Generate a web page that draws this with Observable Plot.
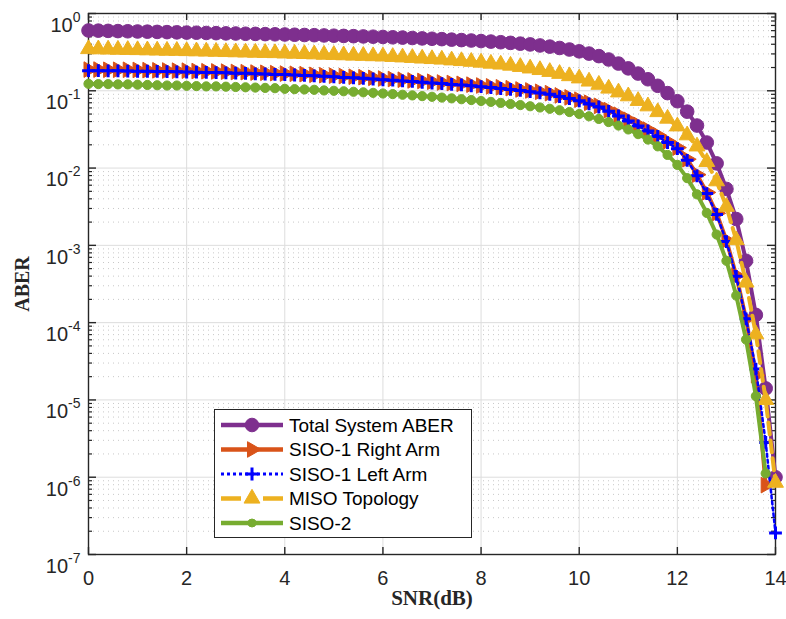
<!DOCTYPE html>
<html><head><meta charset="utf-8">
<script src="https://cdn.jsdelivr.net/npm/d3@7"></script>
<script src="https://cdn.jsdelivr.net/npm/@observablehq/plot@0.6"></script>
<style>
body{margin:0;background:#fff;}
#chart{width:786px;height:619px;}
</style></head><body><div id="chart"></div>
<script>
const snr = [0,0.2,0.4,0.6,0.8,1,1.2,1.4,1.6,1.8,2,2.2,2.4,2.6,2.8,3,3.2,3.4,3.6,3.8,4,4.2,4.4,4.6,4.8,5,5.2,5.4,5.6,5.8,6,6.2,6.4,6.6,6.8,7,7.2,7.4,7.6,7.8,8,8.2,8.4,8.6,8.8,9,9.2,9.4,9.6,9.8,10,10.2,10.4,10.6,10.8,11,11.2,11.4,11.6,11.8,12,12.2,12.4,12.6,12.8,13,13.2,13.4,13.6,13.8,14];

const totalABER = [0.603,0.600,0.596,0.592,0.589,0.585,0.582,0.578,0.574,0.570,0.566,0.564,0.560,0.557,0.553,0.551,0.547,0.545,0.541,0.538,0.535,0.531,0.527,0.524,0.520,0.516,0.513,0.509,0.505,0.501,0.497,0.492,0.488,0.482,0.476,0.471,0.466,0.459,0.453,0.447,0.440,0.433,0.425,0.417,0.407,0.398,0.386,0.373,0.358,0.342,0.324,0.303,0.281,0.254,0.225,0.195,0.167,0.141,0.116,0.0933,0.0733,0.0537,0.0355,0.0214,0.0115,0.00537,0.00219,6.31e-4,1.26e-4,1.41e-5,1.0e-6];

const siso1Right = [0.188,0.188,0.187,0.187,0.187,0.186,0.185,0.184,0.183,0.182,0.182,0.180,0.179,0.178,0.177,0.175,0.174,0.172,0.171,0.169,0.167,0.166,0.164,0.161,0.159,0.157,0.155,0.152,0.150,0.147,0.144,0.142,0.139,0.136,0.134,0.131,0.128,0.126,0.123,0.120,0.117,0.114,0.111,0.108,0.104,0.101,0.0971,0.0931,0.0871,0.0822,0.0767,0.0700,0.0638,0.0562,0.0490,0.0422,0.0363,0.0313,0.0266,0.0221,0.0184,0.0130,0.00822,0.00484,0.00260,0.00116,4.07e-4,1.12e-4,2.09e-5,7.9e-7];

const siso1Left = [0.182,0.182,0.181,0.181,0.180,0.179,0.179,0.178,0.177,0.176,0.175,0.174,0.173,0.172,0.171,0.169,0.168,0.166,0.165,0.163,0.162,0.160,0.158,0.156,0.154,0.152,0.149,0.147,0.145,0.142,0.139,0.137,0.134,0.132,0.129,0.126,0.124,0.121,0.119,0.116,0.113,0.110,0.107,0.104,0.101,0.0973,0.0938,0.0899,0.0841,0.0794,0.0741,0.0676,0.0617,0.0543,0.0473,0.0407,0.0351,0.0302,0.0257,0.0214,0.0178,0.0126,0.00794,0.00468,0.00251,0.00112,3.98e-4,1.12e-4,2.51e-5,2.82e-6,1.9e-7];

const misoTopology = [0.347,0.345,0.343,0.341,0.339,0.337,0.335,0.333,0.331,0.330,0.327,0.325,0.323,0.321,0.318,0.316,0.314,0.312,0.310,0.308,0.305,0.303,0.300,0.297,0.294,0.292,0.289,0.286,0.284,0.281,0.279,0.275,0.271,0.267,0.262,0.258,0.254,0.248,0.243,0.238,0.232,0.225,0.219,0.212,0.204,0.195,0.186,0.176,0.166,0.155,0.145,0.132,0.120,0.107,0.0955,0.0851,0.0741,0.0631,0.0531,0.0437,0.0347,0.0266,0.0191,0.0120,0.00676,0.00316,0.00117,3.31e-4,7.08e-5,1.0e-5,8.5e-7];

const siso2 = [0.123,0.122,0.122,0.121,0.121,0.120,0.119,0.118,0.117,0.117,0.116,0.115,0.114,0.114,0.113,0.112,0.111,0.110,0.109,0.108,0.106,0.105,0.104,0.103,0.101,0.100,0.0986,0.0971,0.0955,0.0940,0.0923,0.0906,0.0889,0.0871,0.0853,0.0836,0.0817,0.0798,0.0778,0.0759,0.0738,0.0718,0.0697,0.0675,0.0653,0.0631,0.0608,0.0585,0.0560,0.0531,0.0501,0.0468,0.0432,0.0394,0.0355,0.0316,0.0275,0.0234,0.0191,0.0148,0.0110,0.00741,0.00457,0.00263,0.00138,6.31e-4,2.24e-4,6.03e-5,1.12e-5,1.12e-6];

const seriesNames = ["Total System ABER","SISO-1 Right Arm","SISO-1 Left Arm","MISO Topology","SISO-2"];
const xTicks = [0,2,4,6,8,10,12,14];
const yTicks = [1e-7,1e-6,1e-5,1e-4,1e-3,1e-2,1e-1,1];
const yMinor = yTicks.slice(0,-1).flatMap(d => [2,3,4,5,6,7,8,9].map(m => m*d));

const styles = [
  {values: totalABER, color:"#7E2F8E", lw:4, dash:null, symbol:"circle", r:6.8, rotate:0, filled:true},
  {values: siso1Right, color:"#D95319", lw:4, dash:null, symbol:"triangle", r:5.8, rotate:90, filled:true},
  {values: siso1Left, color:"#0000FF", lw:2.5, dash:"3,3", symbol:"plus", r:4.2, rotate:0, filled:false},
  {values: misoTopology, color:"#EDB120", lw:4, dash:"12,6", symbol:"triangle", r:5.9, rotate:0, filled:true},
  {values: siso2, color:"#77AC30", lw:4, dash:null, symbol:"circle", r:4.6, rotate:0, filled:true}
];

const W = 786, H = 619, ML = 88, MR = 11, MT = 13, MB = 65;
const PW = W - ML - MR, PH = H - MT - MB;
const axisColor = "#262626";
const sans = "Liberation Sans, Arial, Helvetica, sans-serif";
const serif = "Liberation Serif, Times New Roman, serif";

const seriesMarks = styles.flatMap((s, k) => {
  const rows = s.values.map((v, i) => ({x: snr[i], y: v}));
  const lineOpts = {x: "x", y: "y", stroke: s.color, strokeWidth: s.lw};
  if (s.dash) lineOpts.strokeDasharray = s.dash;
  const dotOpts = {x: "x", y: "y", symbol: s.symbol, r: s.r, stroke: s.color};
  if (s.filled) { dotOpts.fill = s.color; dotOpts.strokeWidth = 1; }
  else { dotOpts.fill = "none"; dotOpts.strokeWidth = 3; }
  if (s.rotate) dotOpts.rotate = s.rotate;
  return [Plot.line(rows, lineOpts), Plot.dot(rows, dotOpts)];
});

const chart = Plot.plot({
  width: W, height: H,
  marginLeft: ML, marginRight: MR, marginTop: MT, marginBottom: MB,
  style: {background: "#fff", color: axisColor, fontFamily: sans},
  x: {domain: [0, 14]},
  y: {type: "log", domain: [1e-7, 1]},
  marks: [
    Plot.gridX(xTicks, {stroke: "#dddddd", strokeOpacity: 1, strokeWidth: 1}),
    Plot.gridY(yMinor, {stroke: "#c8c8c8", strokeOpacity: 1, strokeWidth: 1, strokeDasharray: "1,4"}),
    Plot.gridY(yTicks, {stroke: "#dddddd", strokeOpacity: 1, strokeWidth: 1}),
    Plot.frame({stroke: axisColor, strokeWidth: 1.4}),
    Plot.tickX(xTicks, {x: d => d, insetTop: PH - 7, stroke: axisColor, strokeWidth: 1.4}),
    Plot.tickX(xTicks, {x: d => d, insetBottom: PH - 7, stroke: axisColor, strokeWidth: 1.4}),
    Plot.tickY(yTicks, {y: d => d, insetRight: PW - 8, stroke: axisColor, strokeWidth: 1.4}),
    Plot.tickY(yTicks, {y: d => d, insetLeft: PW - 8, stroke: axisColor, strokeWidth: 1.4}),
    Plot.tickY(yMinor, {y: d => d, insetRight: PW - 4, stroke: axisColor, strokeWidth: 1.2}),
    Plot.tickY(yMinor, {y: d => d, insetLeft: PW - 4, stroke: axisColor, strokeWidth: 1.2}),
    Plot.axisX(xTicks, {tickSize: 0, tickPadding: 16, fontSize: 20, label: null, tickFormat: d => String(d)}),
    Plot.axisY(yTicks, {tickSize: 0, tickPadding: 8, fontSize: 20, label: null,
      tickFormat: d => "10^" + Math.round(Math.log10(d))}),
    ...seriesMarks,
    Plot.text(["SNR(dB)"], {text: d => d, frameAnchor: "bottom", dy: 50, fontSize: 21, fontWeight: "bold", fontFamily: serif, fill: axisColor}),
    Plot.text(["ABER"], {text: d => d, frameAnchor: "left", dx: -66, rotate: -90, textAnchor: "middle", fontSize: 20, fontWeight: "bold", fontFamily: serif, fill: axisColor})
  ]
});

document.getElementById("chart").appendChild(chart);
const svg = d3.select(chart);

// superscript exponents on y tick labels
svg.selectAll('g[aria-label="y-axis tick label"] text').each(function() {
  const t = d3.select(this);
  const parts = t.text().split("^");
  t.text(null).attr("dy", "0.6em");
  t.append("tspan").text(parts[0]);
  t.append("tspan").attr("dy", -10).attr("font-size", 14).text(parts[1]);
});

// legend
const symMap = {circle: d3.symbolCircle, triangle: d3.symbolTriangle, plus: d3.symbolPlus};
const lg = svg.append("g").attr("aria-label", "legend");
lg.append("rect").attr("x", 214.5).attr("y", 409.5).attr("width", 257).attr("height", 128)
  .attr("fill", "#fff").attr("stroke", axisColor).attr("stroke-width", 1);
styles.forEach((s, i) => {
  const cy = 425 + i * 24.5;
  const ln = lg.append("line").attr("x1", 221).attr("x2", 283).attr("y1", cy).attr("y2", cy)
    .attr("stroke", s.color).attr("stroke-width", s.lw + 0.5);
  if (s.dash) ln.attr("stroke-dasharray", s.symbol === "plus" ? "3,3" : "20,22");
  const rr = s.symbol === "circle" && i === 4 ? 4 : s.r;
  lg.append("path").attr("d", d3.symbol(symMap[s.symbol], Math.PI * rr * rr)())
    .attr("transform", `translate(252,${cy}) rotate(${s.rotate})`)
    .attr("fill", s.filled ? s.color : "none").attr("stroke", s.color)
    .attr("stroke-width", s.filled ? 1 : 3);
  lg.append("text").attr("x", 289).attr("y", cy).attr("dy", "0.35em")
    .attr("text-anchor", "start")
    .attr("font-size", 19).attr("font-family", sans).attr("fill", "#000").text(seriesNames[i]);
});
</script>
</body></html>
